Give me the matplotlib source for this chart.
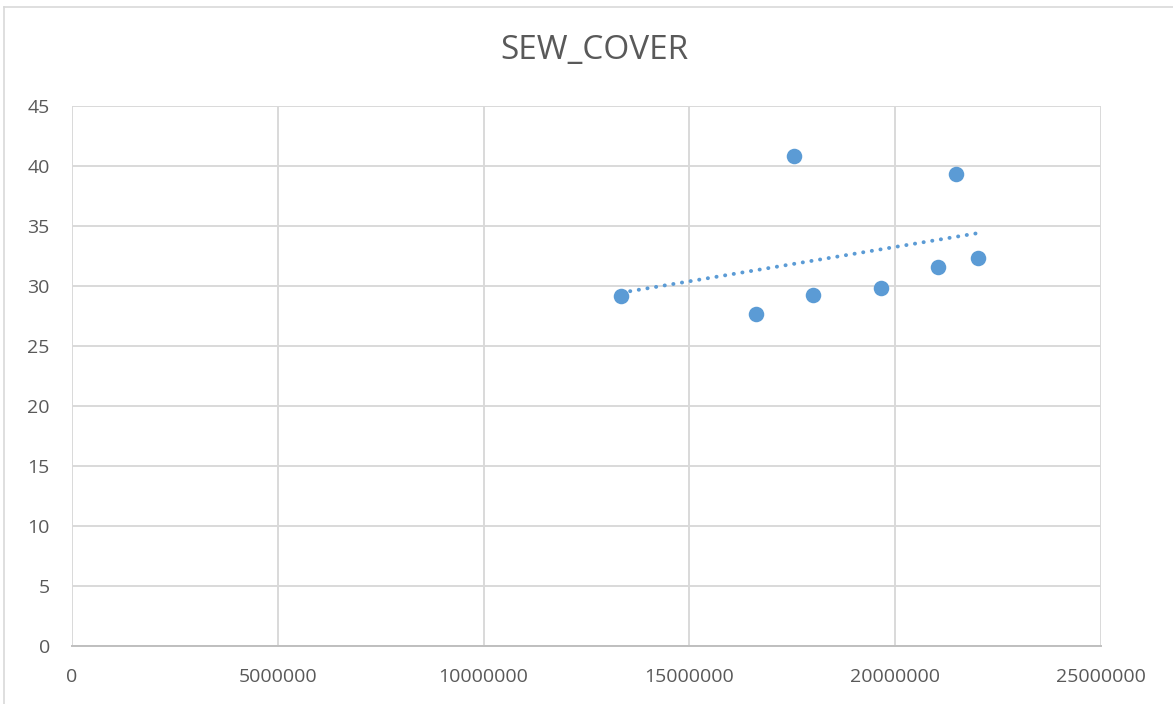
import numpy as np
import matplotlib
matplotlib.use("Agg")
import matplotlib.pyplot as plt
from matplotlib.lines import Line2D

# Data
population = [13350000, 16620000, 17530000, 18000000, 19650000, 21050000, 21470000, 22010000]
sew_cover = [29.17, 27.69, 40.83, 29.25, 29.86, 31.61, 39.36, 32.36]
x_ticks = [0, 5000000, 10000000, 15000000, 20000000, 25000000]
y_ticks = [0, 5, 10, 15, 20, 25, 30, 35, 40, 45]
title = "SEW_COVER"

blue = "#5B9BD5"
grid = "#D9D9D9"
text_col = "#595959"

plt.rcParams["font.family"] = ["Open Sans", "DejaVu Sans"]

W, H = 1173, 704
fig = plt.figure(figsize=(W / 100, H / 100), dpi=100)
ax = fig.add_axes([72 / W, (H - 646) / H, (1101 - 72) / W, (646 - 106) / H])

ax.set_xlim(0, 25000000)
ax.set_ylim(0, 45)
ax.set_xticks(x_ticks)
ax.set_yticks(y_ticks)
ax.set_xticklabels([str(v) for v in x_ticks])
ax.set_yticklabels([str(v) for v in y_ticks])
ax.grid(True, color=grid, linewidth=1.4)
ax.set_axisbelow(True)
for s in ["top", "right", "left"]:
    ax.spines[s].set_visible(False)
ax.spines["bottom"].set_color("#BFBFBF")
ax.spines["bottom"].set_linewidth(1.4)
ax.tick_params(axis="both", length=0, colors=text_col, labelsize=14)
ax.tick_params(axis="y", pad=16)
ax.tick_params(axis="x", pad=16)

ax.scatter(population, sew_cover, s=125, color=blue, zorder=3, linewidths=0)

# Linear trendline over the data range
slope, intercept = np.polyfit(population, sew_cover, 1)
xs = np.array([min(population), max(population)])
ax.plot(xs, slope * xs + intercept, linestyle=(0, (0.05, 2.2)), linewidth=2.8,
        color=blue, dash_capstyle="round", zorder=2)

fig.text(594 / W, 1 - 51 / H, title, ha="center", va="center",
         fontsize=24, color=text_col)

# Chart frame
fig.add_artist(Line2D([4 / W, 4 / W], [0, 1 - 7 / H], transform=fig.transFigure,
                      color=grid, linewidth=1.2))
fig.add_artist(Line2D([4 / W, 1], [1 - 7 / H, 1 - 7 / H], transform=fig.transFigure,
                      color=grid, linewidth=1.2))

fig.savefig("out.png", dpi=100)
